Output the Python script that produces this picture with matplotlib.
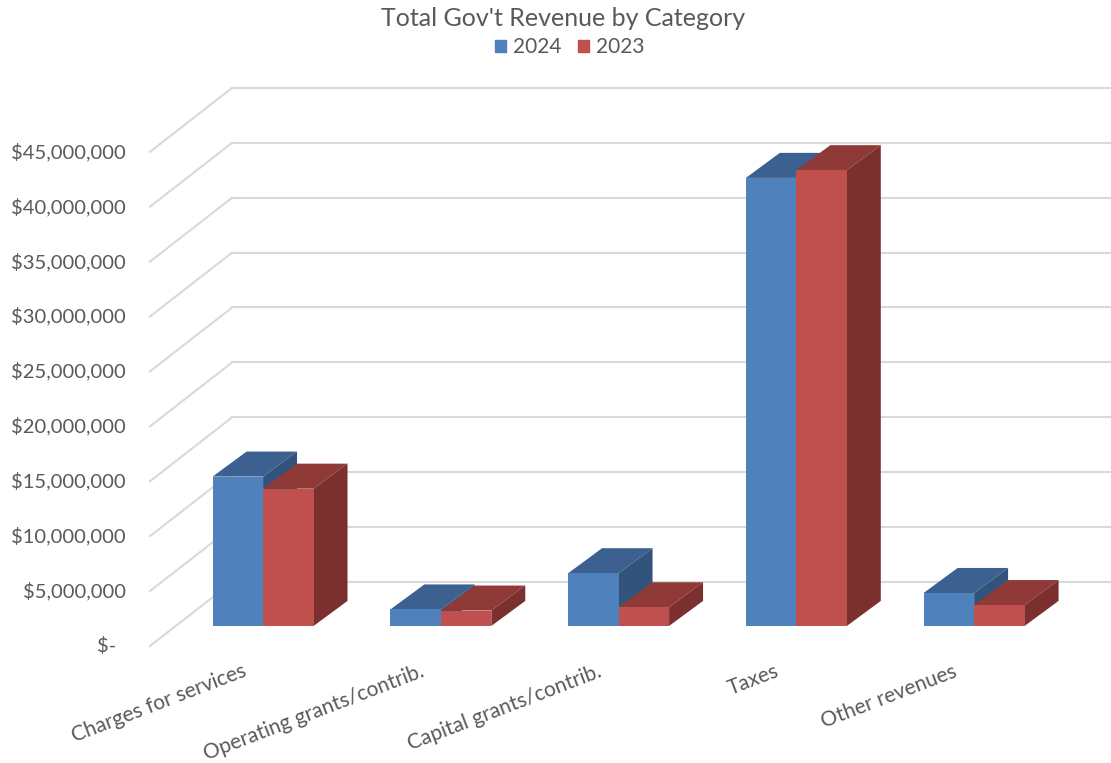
import matplotlib
matplotlib.use("Agg")
import matplotlib.pyplot as plt
from matplotlib.patches import Polygon, Patch

categories = ["Charges for services", "Operating grants/contrib.", "Capital grants/contrib.",
              "Taxes", "Other revenues"]
rev_2024 = [13.6e6, 1.5e6, 4.8e6, 40.8e6, 3.0e6]
rev_2023 = [12.5e6, 1.4e6, 1.7e6, 41.5e6, 1.9e6]
tick_values = [0, 5e6, 10e6, 15e6, 20e6, 25e6, 30e6, 35e6, 40e6, 45e6]
tick_labels = ["$-  ", "$5,000,000", "$10,000,000", "$15,000,000", "$20,000,000", "$25,000,000",
               "$30,000,000", "$35,000,000", "$40,000,000", "$45,000,000"]

plt.rcParams["font.family"] = ["Lato", "DejaVu Sans"]
TXT = "#595959"
GRID = "#d9d9d9"
BLUE = ("#4f81bd", "#3c6190", "#32547c")   # front, top, side
RED = ("#c0504d", "#903a38", "#7b2f2e")

fig = plt.figure(figsize=(11.11, 7.63), dpi=100, facecolor="white")
ax = fig.add_axes([0, 0, 1, 1])
ax.set_xlim(-1.48, 4.77)
ax.set_ylim(-12.48e6, 57.0e6)
ax.axis("off")

# fake 3D geometry (data units)
bw = 0.284                 # bar width
ddx, ddy = 0.191, 2.28e6   # bar depth offset
xf, xb = -0.636, -0.174    # wall front / back x
front_off, back_off = 1.82e6, 4.0e6

for v, lab in zip(tick_values, tick_labels):
    ax.plot([xf, xb], [v - front_off, v + back_off], color=GRID, lw=1.5, zorder=1)
    ax.plot([xb, 4.77], [v + back_off, v + back_off], color=GRID, lw=1.5, zorder=1)
    ax.text(xf - 0.135, v - front_off, lab, ha="right", va="center", fontsize=14.5, color=TXT)

def bar3d(x0, h, cols, z):
    ax.add_patch(Polygon([(x0, h), (x0 + ddx, h + ddy), (x0 + bw + ddx, h + ddy), (x0 + bw, h)],
                         closed=True, facecolor=cols[1], edgecolor="none", zorder=z))
    ax.add_patch(Polygon([(x0 + bw, 0), (x0 + bw + ddx, ddy), (x0 + bw + ddx, h + ddy), (x0 + bw, h)],
                         closed=True, facecolor=cols[2], edgecolor="none", zorder=z))
    ax.bar(x0, h, width=bw, align="edge", color=cols[0], edgecolor="none", zorder=z)

for i, (a, b) in enumerate(zip(rev_2024, rev_2023)):
    bar3d(i - bw, a, BLUE, 2)
    bar3d(i, b, RED, 3)
    ax.text(i - 0.12, -3.2e6, categories[i], rotation=21, rotation_mode="anchor",
            ha="right", va="top", fontsize=15, color=TXT)

fig.text(0.507, 1 - 18 / 763, "Total Gov't Revenue by Category", ha="center", va="center",
         fontsize=18, color=TXT)
handles = [Patch(color=BLUE[0]), Patch(color=RED[0])]
fig.legend(handles, ["2024", "2023"], loc="center", bbox_to_anchor=(0.513, 1 - 47 / 763), ncol=2,
           frameon=False, fontsize=15, labelcolor=TXT, handlelength=0.5, handleheight=0.5,
           handletextpad=0.35, columnspacing=0.8)

fig.savefig("out.png", dpi=100, facecolor="white")
